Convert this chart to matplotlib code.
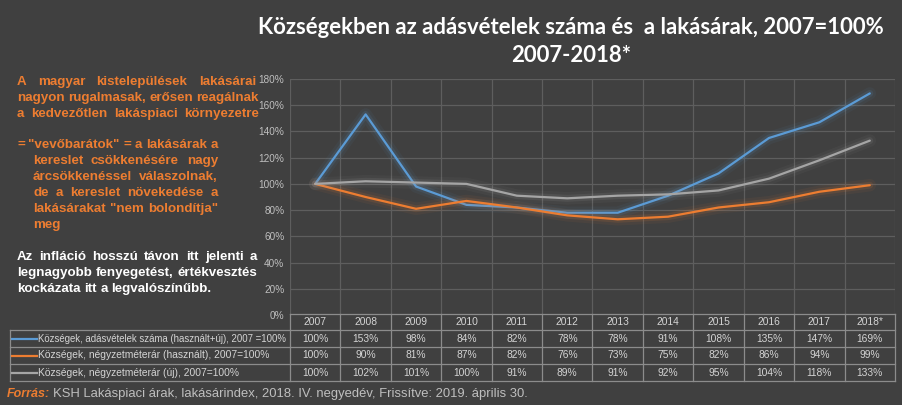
import numpy as np
import matplotlib
matplotlib.use('Agg')
import matplotlib.pyplot as plt
import matplotlib.patheffects as pe
from matplotlib.lines import Line2D
from matplotlib.transforms import blended_transform_factory

# ---------------- data ----------------
years = ['2007', '2008', '2009', '2010', '2011', '2012', '2013', '2014',
         '2015', '2016', '2017', '2018*']
sales = [100, 153, 98, 84, 82, 78, 78, 91, 108, 135, 147, 169]
price_used = [100, 90, 81, 87, 82, 76, 73, 75, 82, 86, 94, 99]
price_new = [100, 102, 101, 100, 91, 89, 91, 92, 95, 104, 118, 133]
series_names = ['Községek, adásvételek száma (használt+új), 2007 =100%',
                'Községek, négyzetméterár (használt), 2007=100%',
                'Községek, négyzetméterár (új), 2007=100%']
yticks = [0, 20, 40, 60, 80, 100, 120, 140, 160, 180]

title1 = 'Községekben az adásvételek száma és  a lakásárak, 2007=100%'
title2 = '2007-2018*'

BG = '#404040'
GRID = '#5e5e5e'
TBORDER = '#8c8c8c'
TXT = '#d4d4d4'
ORANGE_TXT = '#ED7D31'
COLORS = ['#5B9BD5', '#ED7D31', '#A5A5A5']

W, H = 903, 405
fig = plt.figure(figsize=(W / 100, H / 100), dpi=100, facecolor=BG)
renderer = fig.canvas.get_renderer()


def fx(px):
    return px / W


def fy(py):
    return 1 - py / H


# ---------------- chart ----------------
ax = fig.add_axes([fx(290), fy(315), fx(895) - fx(290), fy(79) - fy(315)])
ax.set_facecolor(BG)
ax.set_xlim(-0.5, len(years) - 0.5)
ax.set_ylim(0, 180)
for s in ax.spines.values():
    s.set_visible(False)
ax.set_xticks([])
ax.set_yticks(yticks)
ax.set_yticklabels([f'{v}%' for v in yticks], family='Liberation Sans')
ax.tick_params(axis='y', length=0, pad=4, labelsize=7.2, labelcolor='#BFBFBF')
ax.grid(axis='y', color=GRID, lw=0.9)
for v in np.arange(-0.5, len(years), 1.0):
    ax.axvline(v, color=GRID, lw=0.9, zorder=0.5)
ax.set_axisbelow(True)

xs = np.arange(len(years))
for vals, c in zip([sales, price_used, price_new], COLORS):
    ax.plot(xs, vals, color=c, lw=1.6, zorder=3, solid_capstyle='round',
            path_effects=[pe.Stroke(linewidth=9, foreground=c, alpha=0.06),
                          pe.Stroke(linewidth=5, foreground=c, alpha=0.12),
                          pe.Normal()])

# ---------------- table ----------------
tcol = blended_transform_factory(ax.transData, fig.transFigure)
row_edges = [314, 330, 347, 364, 381]   # pixel y of horizontal borders
left_px = 10
right_px = 895

fig.add_artist(Line2D([-0.5, len(years) - 0.5], [fy(row_edges[0])] * 2,
                      transform=tcol, color=TBORDER, lw=0.9))
for yy in row_edges[1:]:
    fig.add_artist(Line2D([fx(left_px), fx(right_px)], [fy(yy)] * 2,
                          transform=fig.transFigure, color=TBORDER, lw=0.9))
for v in np.arange(-0.5, len(years), 1.0):
    fig.add_artist(Line2D([v, v], [fy(row_edges[0]), fy(row_edges[-1])],
                          transform=tcol, color=TBORDER, lw=0.9))
fig.add_artist(Line2D([fx(left_px), fx(left_px)], [fy(row_edges[1]), fy(row_edges[-1])],
                      transform=fig.transFigure, color=TBORDER, lw=0.9))

tfont = dict(family='Liberation Sans', fontsize=7.4, color=TXT)
hy = (row_edges[0] + row_edges[1]) / 2
for i, yr in enumerate(years):
    fig.text(i, fy(hy), yr, transform=tcol, ha='center', va='center', **tfont)
for r, (vals, name, c) in enumerate(zip([sales, price_used, price_new], series_names, COLORS)):
    cy = (row_edges[r + 1] + row_edges[r + 2]) / 2
    for i, v in enumerate(vals):
        fig.text(i, fy(cy), f'{v}%', transform=tcol, ha='center', va='center', **tfont)
    fig.add_artist(Line2D([fx(12), fx(37)], [fy(cy)] * 2, transform=fig.transFigure,
                          color=c, lw=1.6))
    lt = fig.text(fx(38), fy(cy), name, ha='left', va='center', **tfont)
    if r == 0:
        lw_ = lt.get_window_extent(renderer).width
        if lw_ > 249:
            lt.set_fontsize(7.4 * 249 / lw_)

# ---------------- title ----------------
t1 = fig.text(fx(571), fy(28), title1, ha='center', va='center', color='white',
              family='Lato', weight='bold', fontsize=15)
bb = t1.get_window_extent(renderer)
fs = 15 * 628 / bb.width
t1.set_fontsize(fs)
fig.text(fx(571), fy(56), title2, ha='center', va='center', color='white',
         family='Lato', weight='bold', fontsize=fs)


# ---------------- left annotation ----------------
def justify(line, x0, x1, yb, color, fontsize=9.6, do_justify=True):
    words = line.split()
    objs = [fig.text(0, fy(yb), w, ha='left', va='baseline', color=color,
                     family='Liberation Sans', weight='bold', fontsize=fontsize)
            for w in words]
    widths = [o.get_window_extent(renderer).width for o in objs]
    sp = fig.text(0, 0, 'a a', family='Liberation Sans', weight='bold', fontsize=fontsize)
    sp2 = fig.text(0, 0, 'aa', family='Liberation Sans', weight='bold', fontsize=fontsize)
    space = sp.get_window_extent(renderer).width - sp2.get_window_extent(renderer).width
    sp.remove()
    sp2.remove()
    if do_justify and len(words) > 1:
        gap = (x1 - x0 - sum(widths)) / (len(words) - 1)
        if gap < space * 0.8:
            scale = (x1 - x0 - space * 0.8 * (len(words) - 1)) / sum(widths)
            for o in objs:
                o.set_fontsize(fontsize * scale)
            widths = [w * scale for w in widths]
            gap = space * 0.8
    else:
        gap = space
    x = x0
    for o, w in zip(objs, widths):
        o.set_x(fx(x))
        x += w + gap


orange_block1 = ['A  magyar  kistelepülések  lakásárai',
                 'nagyon rugalmasak, erősen reagálnak',
                 'a kedvezőtlen  lakáspiaci  környezetre']
orange_block2 = ['= "vevőbarátok" = a lakásárak a',
                 'kereslet  csökkenésére   nagy',
                 'árcsökkenéssel   válaszolnak,',
                 'de  a  kereslet  növekedése a',
                 'lakásárakat "nem bolondítja"',
                 'meg']
white_block = ['Az infláció hosszú  távon  itt  jelenti  a',
               'legnagyobb fenyegetést, értékvesztés',
               'kockázata itt a legvalószínűbb.']

for k, (line, yb) in enumerate(zip(orange_block1, [85, 101, 117])):
    justify(line, 17, 256 if k == 0 else 259, yb, ORANGE_TXT)
for k, (line, yb) in enumerate(zip(orange_block2, [148, 164, 180, 196, 212, 228])):
    x0 = 17 if k == 0 else 33
    justify(line, x0, 218, yb, ORANGE_TXT, do_justify=(line != 'meg'))
for k, (line, yb) in enumerate(zip(white_block, [260, 276, 292])):
    justify(line, 17, 257, yb, 'white', do_justify=(k < 2))

# ---------------- source ----------------
fig.text(fx(7), fy(397), 'Forrás:', ha='left', va='baseline', color=ORANGE_TXT,
         family='Liberation Sans', weight='bold', style='italic', fontsize=9)
src_txt = 'KSH Lakáspiaci árak, lakásárindex, 2018. IV. negyedév, Frissítve: 2019. április 30.'
st = fig.text(fx(53), fy(397), src_txt, ha='left', va='baseline', color='#BFBFBF',
              family='Liberation Sans', fontsize=9)
sw = st.get_window_extent(renderer).width
st.set_fontsize(9 * 476 / sw)

fig.savefig('out.png', dpi=100, facecolor=BG)
